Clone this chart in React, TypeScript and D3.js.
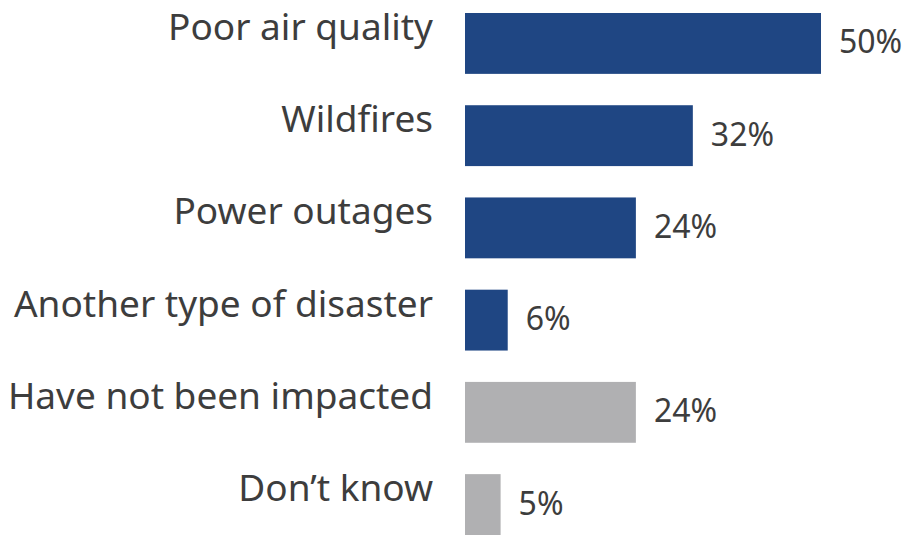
import React, { useRef, useEffect } from 'react';
import * as d3 from 'd3';

const categories = [
  'Poor air quality',
  'Wildfires',
  'Power outages',
  'Another type of disaster',
  'Have not been impacted',
  'Don\u2019t know',
];
const values = [50, 32, 24, 6, 24, 5];
const groups = ['impact', 'impact', 'impact', 'impact', 'other', 'other'];

const App: React.FC = () => {
  const svgRef = useRef<SVGSVGElement>(null);

  useEffect(() => {
    if (!svgRef.current) return;
    const width = 906;
    const height = 535;

    const svg = d3.select(svgRef.current)
      .attr('width', width)
      .attr('height', height)
      .attr('viewBox', [0, 0, width, height]);

    svg.selectAll('*').remove();

    const x = d3.scaleLinear().domain([0, 50]).range([465, 821]);
    const y = d3.scaleBand<string>()
      .domain(categories)
      .range([13, 535])
      .paddingInner(0.34)
      .paddingOuter(0);
    const color = d3.scaleOrdinal<string, string>()
      .domain(['impact', 'other'])
      .range(['#1f4683', '#b0b0b2']);

    const rows = categories.map((c, i) => ({ c, v: values[i], g: groups[i] }));

    svg.append('g')
      .selectAll('rect')
      .data(rows)
      .join('rect')
      .attr('x', x(0))
      .attr('y', d => y(d.c)!)
      .attr('width', d => x(d.v) - x(0))
      .attr('height', y.bandwidth())
      .attr('fill', d => color(d.g));

    // category labels sit on the upper half of each bar
    svg.append('g')
      .selectAll('text')
      .data(rows)
      .join('text')
      .attr('x', 433)
      .attr('y', d => y(d.c)! + 27)
      .attr('text-anchor', 'end')
      .attr('fill', '#3d3d3d')
      .style('font-family', '"Noto Sans", sans-serif')
      .style('font-size', '37px')
      .text(d => d.c);

    svg.append('g')
      .selectAll('text')
      .data(rows)
      .join('text')
      .attr('x', d => x(d.v) + 18)
      .attr('y', d => y(d.c)! + y.bandwidth() / 2 + 10)
      .attr('fill', '#3d3d3d')
      .style('font-family', '"Noto Sans", sans-serif')
      .style('font-size', '32px')
      .text(d => `${d.v}%`);
  }, []);

  return (
    <div style={{ position: 'absolute', top: 0, left: 0 }}>
      <svg ref={svgRef} style={{ display: 'block', background: '#fff' }}></svg>
    </div>
  );
};

export default App;
